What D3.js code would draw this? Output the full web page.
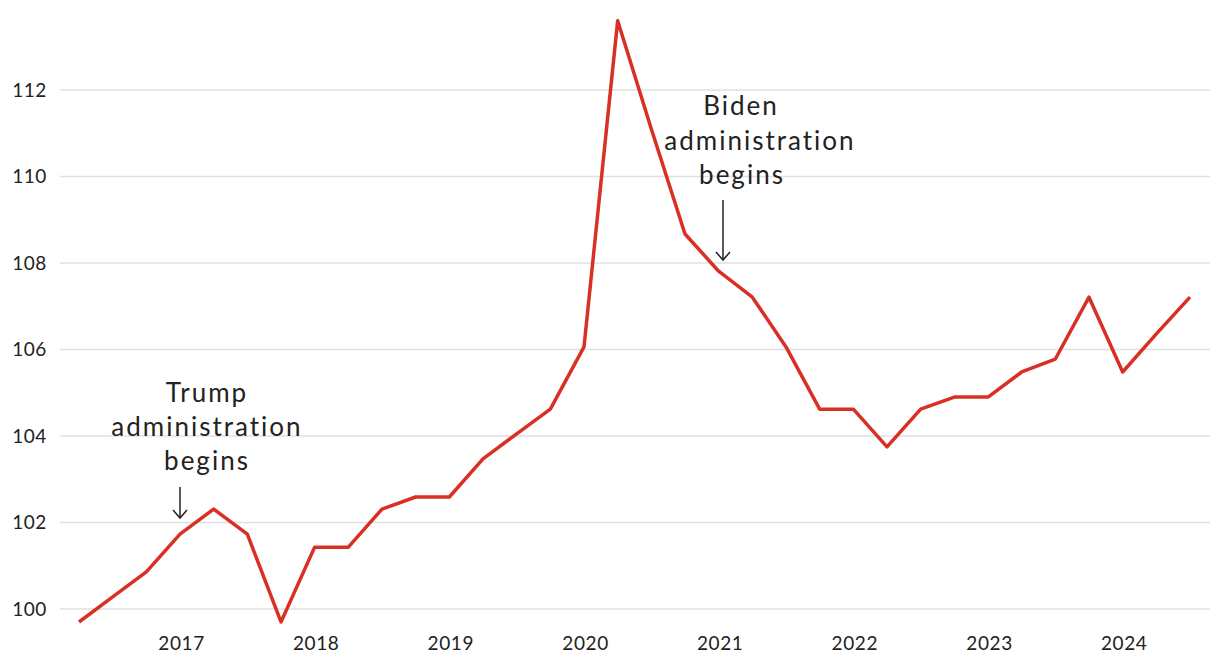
<!DOCTYPE html>
<html><head><meta charset="utf-8">
<script src="https://cdn.jsdelivr.net/npm/d3@7"></script>
<style>body{margin:0;background:#fff}svg{display:block}text{font-family:Lato,"Open Sans",sans-serif}</style>
</head><body><svg id="c" width="1220" height="672"></svg>
<script>
const quarters = ["2016-Q2","2016-Q3","2016-Q4","2017-Q1","2017-Q2","2017-Q3","2017-Q4","2018-Q1","2018-Q2","2018-Q3","2018-Q4","2019-Q1","2019-Q2","2019-Q3","2019-Q4","2020-Q1","2020-Q2","2020-Q3","2020-Q4","2021-Q1","2021-Q2","2021-Q3","2021-Q4","2022-Q1","2022-Q2","2022-Q3","2022-Q4","2023-Q1","2023-Q2","2023-Q3","2023-Q4","2024-Q1","2024-Q2","2024-Q3"];
const values = [99.70,100.28,100.86,101.73,102.31,101.73,99.70,101.43,101.43,102.31,102.59,102.59,103.47,104.05,104.62,106.06,113.60,111.10,108.67,107.81,107.21,106.06,104.62,104.62,103.75,104.62,104.90,104.90,105.48,105.78,107.21,105.48,106.36,107.21];
const yTicks = [100,102,104,106,108,110,112];
const xTickYears = [2017,2018,2019,2020,2021,2022,2023,2024];
const annotations = [
  {lines:["Trump","administration","begins"], date:2017.0, value:101.73},
  {lines:["Biden","administration","begins"], date:2021.0, value:107.81}
];

const toYear = q => +q.slice(0,4) + (+q.slice(6)-1)/4;
const data = quarters.map((q,i)=>({t:toYear(q), v:values[i]}));

const svg = d3.select("#c");
const x = d3.scaleLinear().domain([2016.25, 2024.5]).range([79, 1190]);
const y = d3.scaleLinear().domain([100, 112]).range([609, 90]);

// grid
svg.append("g").selectAll("line").data(yTicks).join("line")
  .attr("x1",60).attr("x2",1210).attr("y1",d=>y(d)).attr("y2",d=>y(d))
  .attr("stroke","#e0e0e0").attr("stroke-width",1.5);

const ya = svg.append("g").attr("transform","translate(47,0)")
  .call(d3.axisLeft(y).tickValues(yTicks).tickSize(0).tickPadding(0));
ya.select(".domain").remove();
ya.selectAll("text").attr("font-size",19).attr("fill","#222").attr("font-family","Lato, sans-serif").attr("letter-spacing","0.6");

const xa = svg.append("g").attr("transform","translate(1,636)")
  .call(d3.axisBottom(x).tickValues(xTickYears).tickFormat(d3.format("d")).tickSize(0).tickPadding(0));
xa.select(".domain").remove();
xa.selectAll("text").attr("font-size",19).attr("fill","#222").attr("font-family","Lato, sans-serif").attr("letter-spacing","0.6");

// line
svg.append("path").datum(data)
  .attr("d", d3.line().x(d=>x(d.t)).y(d=>y(d.v)))
  .attr("fill","none").attr("stroke","#d93025").attr("stroke-width",3.5)
  .attr("stroke-linejoin","round");

// annotations
const ann = [
  {a:annotations[0], cx:[207,207,207], ty:[402,436,470], ax:180, ay1:487, ay2:518},
  {a:annotations[1], cx:[741,760,742], ty:[115,150,184], ax:723, ay1:200, ay2:260}
];
ann.forEach(o=>{
  const g = svg.append("g");
  o.a.lines.forEach((l,i)=>{
    g.append("text").attr("x",o.cx[i]).attr("y",o.ty[i]).attr("text-anchor","middle")
      .attr("font-size",26).attr("fill","#222").attr("letter-spacing","2").text(l);
  });
  const ax = o.ax;
  g.append("line").attr("x1",ax).attr("x2",ax).attr("y1",o.ay1).attr("y2",o.ay2)
    .attr("stroke","#222").attr("stroke-width",1.5);
  g.append("path").attr("d",`M${ax-7},${o.ay2-8} L${ax},${o.ay2} L${ax+7},${o.ay2-8}`)
    .attr("fill","none").attr("stroke","#222").attr("stroke-width",1.5);
});
</script></body></html>
